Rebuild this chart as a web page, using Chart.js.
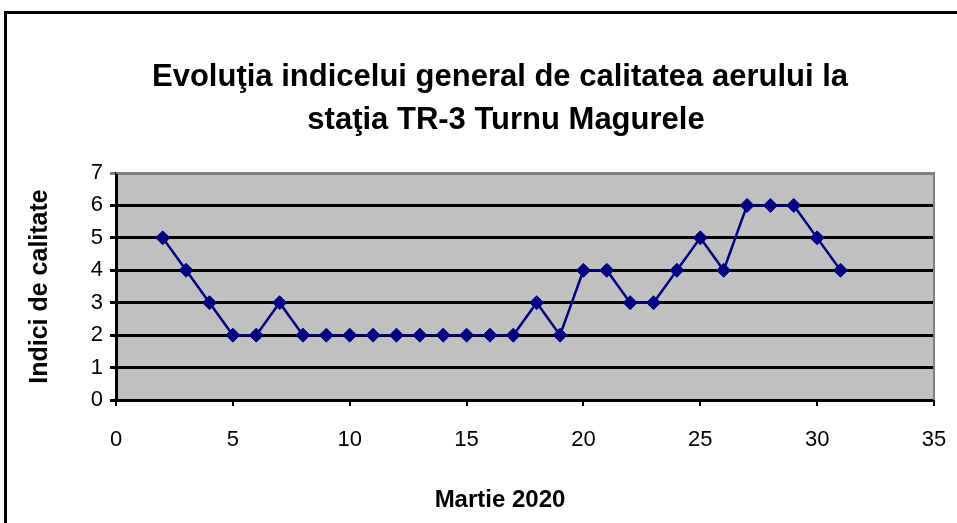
<!DOCTYPE html>
<html>
<head>
<meta charset="utf-8">
<script src="https://cdn.jsdelivr.net/npm/chart.js@4/dist/chart.umd.min.js"></script>
<style>
  html, body { margin: 0; padding: 0; background: #fff; }
  #wrap { width: 957px; height: 523px; }
</style>
</head>
<body>
<div id="wrap"><canvas id="chart" width="957" height="523"></canvas></div>
<script>
// zilele din martie 2020 si indicele de calitate al aerului
const days = [2, 3, 4, 5, 6, 7, 8, 9, 10, 11, 12, 13, 14, 15, 16, 17, 18, 19, 20, 21, 22, 23, 24, 25, 26, 27, 28, 29, 30, 31]
const index = [5, 4, 3, 2, 2, 3, 2, 2, 2, 2, 2, 2, 2, 2, 2, 2, 3, 2, 4, 4, 3, 3, 4, 5, 4, 6, 6, 6, 5, 4]

const titleLines = ["Evoluţia indicelui general de calitatea aerului la", "staţia TR-3 Turnu Magurele"]
const xTitle = "Martie 2020"
const yTitle = "Indici de calitate"

const FONT = "'Liberation Sans', Arial, sans-serif"

// background of the plot area, outer frame and the texts that are centred on the frame
const decor = {
  id: "decor",
  beforeDraw(chart) {
    const { ctx, chartArea: a } = chart
    ctx.save()
    ctx.fillStyle = "#c0c0c0"
    ctx.fillRect(a.left, a.top, a.right - a.left, a.bottom - a.top)
    ctx.restore()
  },
  afterDraw(chart) {
    const { ctx, chartArea: a } = chart
    ctx.save()
    ctx.strokeStyle = "#808080"
    ctx.lineWidth = 2
    ctx.beginPath()
    ctx.moveTo(a.left, a.top)
    ctx.lineTo(a.right, a.top)
    ctx.lineTo(a.right, a.bottom)
    ctx.stroke()

    ctx.strokeStyle = "#000"
    ctx.lineWidth = 3
    ctx.strokeRect(5.5, 12.5, 1200, 1000)

    ctx.fillStyle = "#000"
    ctx.textAlign = "center"
    ctx.textBaseline = "middle"
    ctx.font = "bold 31px " + FONT
    ctx.fillText(titleLines[0], 500, 77)
    ctx.fillText(titleLines[1], 506, 120)
    ctx.font = "bold 24px " + FONT
    ctx.fillText(xTitle, 500, 500)
    ctx.restore()
  }
}

new Chart("chart", {
  type: "scatter",
  data: {
    datasets: [{
      data: days.map((d, i) => ({ x: d, y: index[i] })),
      showLine: true,
      borderColor: "#000080",
      borderWidth: 2.5,
      backgroundColor: "#000080",
      pointStyle: "rectRot",
      pointRadius: 7,
      pointBorderWidth: 1,
      pointBorderColor: "#000080"
    }]
  },
  options: {
    responsive: false,
    animation: false,
    layout: { padding: { top: 173, right: 23, bottom: 0, left: 0 } },
    plugins: { legend: { display: false }, tooltip: { enabled: false } },
    scales: {
      x: {
        type: "linear", min: 0, max: 35,
        afterFit: s => { s.height = 123; s.paddingRight = 0; s.paddingLeft = 0 },
        ticks: { stepSize: 5, color: "#000", padding: 21, font: { family: FONT, size: 22 } },
        grid: { drawOnChartArea: false, color: "#000", lineWidth: 2, tickLength: 6 },
        border: { color: "#000", width: 3 }
      },
      y: {
        min: 0, max: 7,
        afterFit: s => { s.width = 116 },
        ticks: { stepSize: 1, color: "#000", padding: 7, font: { family: FONT, size: 22 } },
        grid: {
          color: c => c.tick && c.tick.value === 7 ? "#808080" : "#000",
          lineWidth: 3, tickLength: 6
        },
        border: { color: "#000", width: 3 },
        title: {
          display: true, text: yTitle, color: "#000",
          font: { family: FONT, size: 25, weight: "bold" },
          padding: { top: 25, bottom: 0 }
        }
      }
    }
  },
  plugins: [decor]
})
</script>
</body>
</html>
